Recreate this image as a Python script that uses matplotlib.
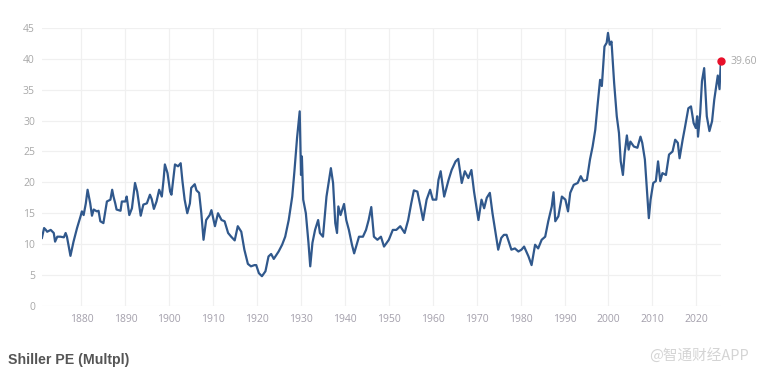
"""Shiller PE (CAPE) history, 1871 to today."""

import matplotlib
matplotlib.use("Agg")
import matplotlib.pyplot as plt

# (year, CAPE) readings taken off the source chart
years = [
    1871.0, 1871.5, 1871.9, 1872.2, 1873.0, 1873.7, 1874.0, 1874.5, 1875.2, 1876.0,
    1876.4, 1876.7, 1877.5, 1878.2, 1879.0, 1879.8, 1880.1, 1880.5, 1881.0, 1881.4,
    1882.0, 1882.4, 1882.8, 1883.5, 1883.9, 1884.3, 1885.0, 1885.8, 1886.6, 1887.0,
    1887.3, 1887.7, 1888.0, 1888.9, 1889.2, 1890.0, 1890.3, 1890.9, 1891.5, 1892.2,
    1892.7, 1893.5, 1894.1, 1894.9, 1895.6, 1896.0, 1896.5, 1897.1, 1897.7, 1898.3,
    1898.7, 1899.0, 1899.6, 1900.2, 1900.5, 1901.3, 1902.0, 1902.6, 1903.0, 1903.5,
    1904.1, 1904.7, 1905.0, 1905.8, 1906.2, 1906.8, 1907.3, 1907.8, 1908.4, 1909.2,
    1909.6, 1910.4, 1911.1, 1911.9, 1912.6, 1913.4, 1914.1, 1914.9, 1915.6, 1916.4,
    1917.1, 1917.9, 1918.6, 1919.4, 1919.8, 1920.4, 1921.1, 1921.9, 1922.6, 1923.2,
    1923.8, 1924.9, 1925.7, 1926.4, 1927.2, 1928.0, 1928.5, 1929.1, 1929.7, 1930.0,
    1930.2, 1930.5, 1931.1, 1931.7, 1932.1, 1932.6, 1933.2, 1933.9, 1934.3, 1935.0,
    1935.8, 1936.4, 1936.8, 1937.3, 1937.8, 1938.2, 1938.5, 1939.0, 1939.8, 1940.3,
    1940.9, 1941.6, 1942.1, 1943.2, 1944.1, 1944.8, 1945.4, 1946.0, 1946.6, 1947.4,
    1948.2, 1948.9, 1950.0, 1950.9, 1951.7, 1952.6, 1953.6, 1954.4, 1955.1, 1955.7,
    1956.5, 1957.2, 1957.8, 1958.6, 1959.4, 1960.0, 1960.8, 1961.3, 1961.8, 1962.6,
    1963.6, 1964.3, 1965.2, 1965.8, 1966.6, 1967.3, 1968.1, 1968.8, 1969.4, 1970.4,
    1971.1, 1971.7, 1972.3, 1973.0, 1973.6, 1974.9, 1975.6, 1976.2, 1976.8, 1977.9,
    1978.7, 1979.5, 1980.2, 1980.8, 1981.8, 1982.5, 1983.3, 1984.0, 1984.8, 1985.6,
    1986.3, 1987.1, 1987.5, 1987.9, 1988.6, 1989.4, 1990.2, 1990.8, 1991.3, 1992.1,
    1993.0, 1993.7, 1994.3, 1995.1, 1995.8, 1996.4, 1997.0, 1997.5, 1998.1, 1998.5,
    1999.1, 1999.6, 1999.9, 2000.3, 2000.7, 2001.3, 2001.9, 2002.4, 2002.8, 2003.3,
    2003.7, 2004.2, 2004.6, 2005.0, 2005.8, 2006.6, 2007.3, 2007.7, 2008.3, 2008.7,
    2009.2, 2009.6, 2010.2, 2010.8, 2011.3, 2011.8, 2012.3, 2013.1, 2013.8, 2014.6,
    2015.2, 2015.8, 2016.2, 2016.9, 2017.4, 2018.2, 2018.8, 2019.4, 2019.9, 2020.2,
    2020.4, 2020.9, 2021.3, 2021.8, 2022.4, 2023.0, 2023.6, 2024.1, 2024.9, 2025.3,
    2025.6,
]
cape = [
    11.0, 12.6, 12.3, 12.0, 12.3, 11.8, 10.4, 11.2, 11.2, 11.1,
    11.8, 11.2, 8.1, 10.4, 12.6, 14.5, 15.3, 14.7, 16.6, 18.8,
    16.6, 14.6, 15.6, 15.3, 15.4, 13.7, 13.4, 16.9, 17.2, 18.8,
    17.7, 16.6, 15.6, 15.4, 16.9, 16.9, 17.7, 14.7, 15.8, 19.9,
    18.5, 14.6, 16.4, 16.6, 18.0, 17.3, 15.7, 16.9, 18.8, 17.7,
    20.4, 22.9, 21.5, 18.5, 18.0, 22.9, 22.6, 23.1, 20.2, 17.2,
    15.0, 16.6, 19.1, 19.7, 18.7, 18.3, 15.0, 10.7, 13.9, 14.7,
    15.5, 12.9, 15.0, 13.9, 13.7, 11.8, 11.2, 10.6, 12.9, 12.0,
    9.1, 6.8, 6.4, 6.6, 6.6, 5.3, 4.8, 5.6, 8.0, 8.4,
    7.6, 8.8, 9.9, 11.2, 13.9, 17.7, 21.8, 27.2, 31.5, 21.2,
    24.2, 17.2, 15.0, 10.2, 6.4, 10.2, 12.3, 13.9, 11.8, 11.2,
    17.7, 20.4, 22.3, 19.9, 13.4, 11.8, 16.1, 14.7, 16.5, 13.9,
    12.3, 9.9, 8.5, 11.2, 11.2, 12.3, 13.9, 16.0, 11.2, 10.7,
    11.2, 9.6, 10.7, 12.3, 12.3, 12.9, 11.8, 13.9, 16.6, 18.7,
    18.5, 16.1, 13.9, 17.2, 18.8, 17.2, 17.2, 20.4, 21.8, 17.7,
    20.4, 22.0, 23.4, 23.8, 19.9, 21.8, 20.7, 22.0, 18.5, 13.9,
    17.2, 15.8, 17.5, 18.3, 15.0, 9.1, 11.0, 11.5, 11.5, 9.1,
    9.3, 8.8, 9.1, 9.6, 8.0, 6.6, 9.9, 9.3, 10.7, 11.2,
    13.7, 16.1, 18.4, 13.7, 14.5, 17.7, 17.2, 15.3, 18.3, 19.6,
    19.9, 21.0, 20.2, 20.4, 23.7, 25.8, 28.5, 32.3, 36.6, 35.6,
    42.0, 42.6, 44.2, 42.3, 42.8, 36.1, 30.7, 28.0, 23.4, 21.2,
    24.7, 27.6, 25.3, 26.6, 25.8, 25.6, 27.4, 26.4, 23.7, 19.4,
    14.2, 17.2, 19.9, 20.2, 23.4, 20.2, 21.5, 21.2, 24.5, 25.0,
    26.9, 26.4, 23.9, 26.9, 28.8, 32.0, 32.3, 29.6, 28.8, 30.7,
    27.4, 31.2, 36.4, 38.5, 30.7, 28.3, 29.9, 33.4, 37.3, 35.1,
    39.6,
]
decades = list(range(1880, 2021, 10))
y_ticks = list(range(0, 46, 5))

fig = plt.figure(figsize=(7.62, 3.73), dpi=100)
ax = fig.add_axes([0.055, 0.18, 0.891, 0.745])

ax.plot(years, cape, color="#30588c", linewidth=1.6, solid_joinstyle="round", zorder=3)
ax.plot(years[-1], cape[-1], "o", color="#e8102a", markersize=5, zorder=4, clip_on=False)
ax.annotate(f"{cape[-1]:.2f}", (years[-1], cape[-1]), xytext=(7, 0),
            textcoords="offset points", va="center", ha="left",
            fontsize=7.5, color="#a8a8a8", family="Open Sans", annotation_clip=False)

ax.set_xlim(1871.0, 2025.6)
ax.set_ylim(0, 45)
ax.set_xticks(decades)
ax.set_yticks(y_ticks)
ax.grid(True, color="#f0f0f0", linewidth=0.9)
ax.set_axisbelow(True)
for side in ax.spines.values():
    side.set_visible(False)
ax.tick_params(length=0, labelsize=7.5)
ax.tick_params(axis="x", pad=6, labelcolor="#a39fab")
ax.tick_params(axis="y", pad=5, labelcolor="#a8a8a8")
for lbl in ax.get_xticklabels() + ax.get_yticklabels():
    lbl.set_family("Open Sans")

fig.text(0.011, 0.024, "Shiller PE (Multpl)", fontsize=10.2, fontweight="bold",
         color="#555555", family="Liberation Sans", ha="left", va="baseline")
fig.text(0.983, 0.048, "@智通财经APP", fontsize=10.5, color="#d4d4d4",
         family=["Noto Sans CJK SC", "DejaVu Sans"], ha="right", va="center")

fig.savefig("out.png", dpi=100)
